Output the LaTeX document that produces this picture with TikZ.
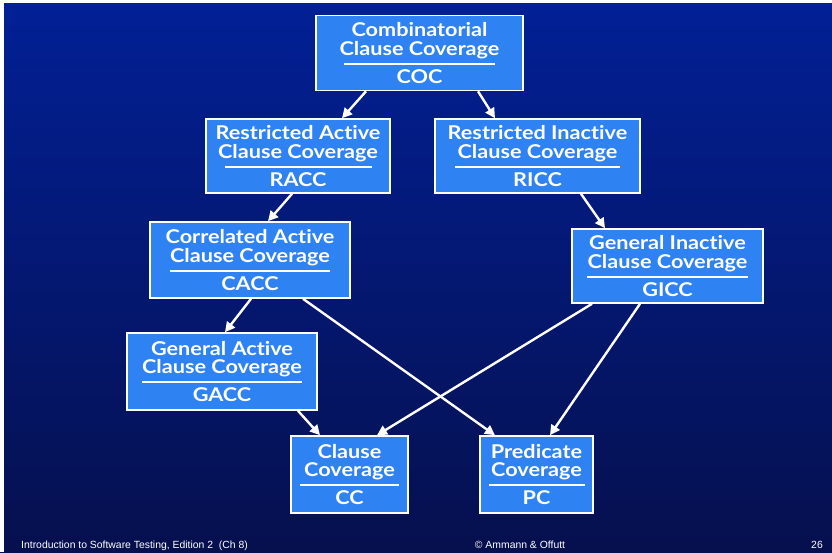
\documentclass[tikz,border=0pt]{standalone}
\usepackage{fontspec}
\setmainfont{Lato}[FakeStretch=1.14, Ligatures=NoCommon]
\newfontfamily\footfont{Liberation Sans}
\usetikzlibrary{arrows.meta, positioning}

\definecolor{slidetop}{RGB}{2,32,150}
\definecolor{slidebottom}{RGB}{6,16,78}
\definecolor{boxblue}{RGB}{47,130,242}

% two title lines, a rule, then the short name
\newcommand{\covlabel}[4]{#1\\#2\\[-9pt]\rule{#4pt}{2pt}\\#3}

\begin{document}
\begin{tikzpicture}[
x=1pt, y=-1pt,
covbox/.style={
    draw=white,
    fill=boxblue,
    line width=1.6pt,
    rectangle,
    align=center,
    text=white,
    inner sep=0pt,
    font=\bfseries\fontsize{19}{18.5}\selectfont
},
arrow/.style={-{Triangle[length=10pt,width=10pt]}, white, line width=2.4pt},
foot/.style={text=white, inner sep=0pt, font=\footfont\fontsize{10.4}{12}\selectfont}
]

% Background
\useasboundingbox (0,0) rectangle (832,552);
\shade[top color=slidetop, bottom color=slidebottom] (0,0) rectangle (832,552);
\fill[white] (0,0) rectangle (4,552);
\fill[white] (0,0) rectangle (832,3);

% Coverage criteria
\node[covbox, minimum width=207pt, minimum height=75pt] (coc) at (419.5,53) {\covlabel{Combinatorial}{Clause Coverage}{COC}{151}};
\node[covbox, minimum width=184pt, minimum height=74pt] (racc) at (298,156) {\covlabel{Restricted Active}{Clause Coverage}{RACC}{147}};
\node[covbox, minimum width=205pt, minimum height=74pt] (ricc) at (537.5,156) {\covlabel{Restricted Inactive}{Clause Coverage}{RICC}{165}};
\node[covbox, minimum width=200pt, minimum height=76pt] (cacc) at (250,260) {\covlabel{Correlated Active}{Clause Coverage}{CACC}{160}};
\node[covbox, minimum width=191pt, minimum height=74pt] (gicc) at (667.5,266) {\covlabel{General Inactive}{Clause Coverage}{GICC}{161}};
\node[covbox, minimum width=190pt, minimum height=77pt] (gacc) at (222,371.5) {\covlabel{General Active}{Clause Coverage}{GACC}{160}};
\node[covbox, minimum width=117pt, minimum height=77pt] (cc) at (349.5,474.5) {\covlabel{Clause}{Coverage}{CC}{99}};
\node[covbox, minimum width=113pt, minimum height=77pt] (pc) at (536.5,474.5) {\covlabel{Predicate}{Coverage}{PC}{96}};

% Subsumption arrows
\draw[arrow] ([xshift=-53.5pt]coc.south) -- ([xshift=44pt]racc.north);
\draw[arrow] ([xshift=58.5pt]coc.south) -- ([xshift=-42.5pt]ricc.north);
\draw[arrow] ([xshift=-6pt]racc.south) -- ([xshift=18pt]cacc.north);
\draw[arrow] ([xshift=43.5pt]ricc.south) -- ([xshift=-62.5pt]gicc.north);
\draw[arrow] ([xshift=1pt]cacc.south) -- ([xshift=3pt]gacc.north);
\draw[arrow] ([xshift=53pt]cacc.south) -- ([xshift=-41.5pt]pc.north);
\draw[arrow] ([xshift=-75.5pt]gicc.south) -- ([xshift=27.5pt]cc.north);
\draw[arrow] ([xshift=-27.5pt]gicc.south) -- ([xshift=13.5pt]pc.north);
\draw[arrow] ([xshift=76pt]gacc.south) -- ([xshift=-29.5pt]cc.north);

% Footer
\node[foot, anchor=base west] (book) at (21,548) {Introduction to Software Testing, Edition 2\ \ (Ch 8)};
\node[foot, anchor=base] (authors) at (520,548) {© Ammann \& Offutt};
\node[foot, anchor=base east] (page) at (823,548) {26};

\end{tikzpicture}
\end{document}
